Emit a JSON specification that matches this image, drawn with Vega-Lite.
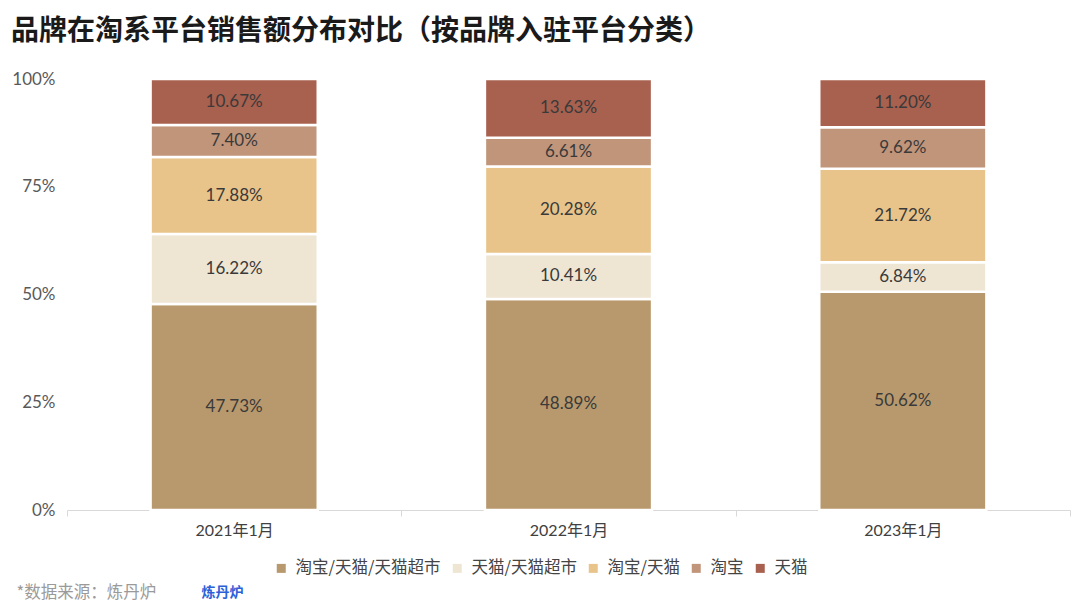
{
  "$schema": "https://vega.github.io/schema/vega-lite/v6.json",
  "width": 1003,
  "height": 431,
  "autosize": {"type": "none"},
  "padding": {"left": 67, "top": 79, "right": 10, "bottom": 102},
  "background": "white",
  "config": {
    "view": {"stroke": null},
    "font": "Lato, Noto Sans CJK SC"
  },
  "title": {
    "text": "品牌在淘系平台销售额分布对比（按品牌入驻平台分类）",
    "anchor": "start",
    "frame": "group",
    "dx": -56,
    "offset": 24,
    "font": "Noto Sans CJK SC",
    "fontSize": 28,
    "fontWeight": "bold",
    "color": "#1a1a1a"
  },
  "data": {
    "values": [
      {"年份": "2021年1月", "平台": "淘宝/天猫/天猫超市", "占比": 0.4773},
      {"年份": "2021年1月", "平台": "天猫/天猫超市", "占比": 0.1622},
      {"年份": "2021年1月", "平台": "淘宝/天猫", "占比": 0.1788},
      {"年份": "2021年1月", "平台": "淘宝", "占比": 0.0740},
      {"年份": "2021年1月", "平台": "天猫", "占比": 0.1067},
      {"年份": "2022年1月", "平台": "淘宝/天猫/天猫超市", "占比": 0.4889},
      {"年份": "2022年1月", "平台": "天猫/天猫超市", "占比": 0.1041},
      {"年份": "2022年1月", "平台": "淘宝/天猫", "占比": 0.2028},
      {"年份": "2022年1月", "平台": "淘宝", "占比": 0.0661},
      {"年份": "2022年1月", "平台": "天猫", "占比": 0.1363},
      {"年份": "2023年1月", "平台": "淘宝/天猫/天猫超市", "占比": 0.5062},
      {"年份": "2023年1月", "平台": "天猫/天猫超市", "占比": 0.0684},
      {"年份": "2023年1月", "平台": "淘宝/天猫", "占比": 0.2172},
      {"年份": "2023年1月", "平台": "淘宝", "占比": 0.0962},
      {"年份": "2023年1月", "平台": "天猫", "占比": 0.1120}
    ]
  },
  "transform": [
    {"stack": "占比", "groupby": ["年份"], "offset": "normalize", "as": ["v0", "v1"]},
    {"calculate": "(datum.v0 + datum.v1) / 2", "as": "mid"}
  ],
  "encoding": {
    "x": {
      "field": "年份",
      "type": "nominal",
      "sort": null,
      "scale": {"paddingInner": 0, "paddingOuter": 0},
      "axis": {
        "title": "*数据来源：炼丹炉",
        "titleX": -51,
        "titleY": 82,
        "titleAlign": "left",
        "titleBaseline": "middle",
        "titleFont": "Noto Sans CJK SC",
        "titleFontSize": 16.5,
        "titleFontWeight": "normal",
        "titleColor": "#9a9a9a",
        "labelAngle": 0,
        "labelFontSize": 16,
        "labelColor": "#404040",
        "labelPadding": 6,
        "domainColor": "#d9d9d9",
        "tickColor": "#d9d9d9",
        "tickSize": 6,
        "tickBand": "extent"
      }
    }
  },
  "layer": [
    {
      "mark": {"type": "bar", "stroke": "white", "strokeWidth": 2.5, "width": {"band": 0.5}},
      "encoding": {
        "y": {
          "field": "v0",
          "type": "quantitative",
          "scale": {"domain": [0, 1]},
          "axis": {
            "title": "炼丹炉",
            "titleAngle": 0,
            "titleX": 134,
            "titleY": 513,
            "titleAlign": "left",
            "titleBaseline": "middle",
            "titleFont": "Noto Sans CJK SC",
            "titleFontSize": 14,
            "titleFontWeight": "bold",
            "titleColor": "#2d5fd8",
            "values": [0, 0.25, 0.5, 0.75, 1],
            "format": ".0%",
            "domain": false,
            "ticks": false,
            "grid": false,
            "labelFontSize": 17,
            "labelColor": "#595959",
            "labelPadding": 12
          }
        },
        "y2": {"field": "v1"},
        "color": {
          "field": "平台",
          "type": "nominal",
          "scale": {
            "domain": ["淘宝/天猫/天猫超市", "天猫/天猫超市", "淘宝/天猫", "淘宝", "天猫"],
            "range": ["#b8996d", "#efe5d3", "#e8c48b", "#c1957a", "#a8604f"]
          },
          "legend": {
            "title": null,
            "orient": "none",
            "direction": "horizontal",
            "legendX": 206,
            "legendY": 481,
            "symbolType": "square",
            "symbolSize": 81,
            "symbolStrokeWidth": 0,
            "labelFont": "Noto Sans CJK SC",
            "labelFontSize": 16.5,
            "labelColor": "#444444",
            "labelOffset": 6,
            "columnPadding": 8
          }
        }
      }
    },
    {
      "mark": {"type": "text", "fontSize": 17, "color": "#3a3a3a", "baseline": "middle"},
      "encoding": {
        "y": {"field": "mid", "type": "quantitative"},
        "text": {"field": "占比", "type": "quantitative", "format": ".2%"}
      }
    }
  ]
}
